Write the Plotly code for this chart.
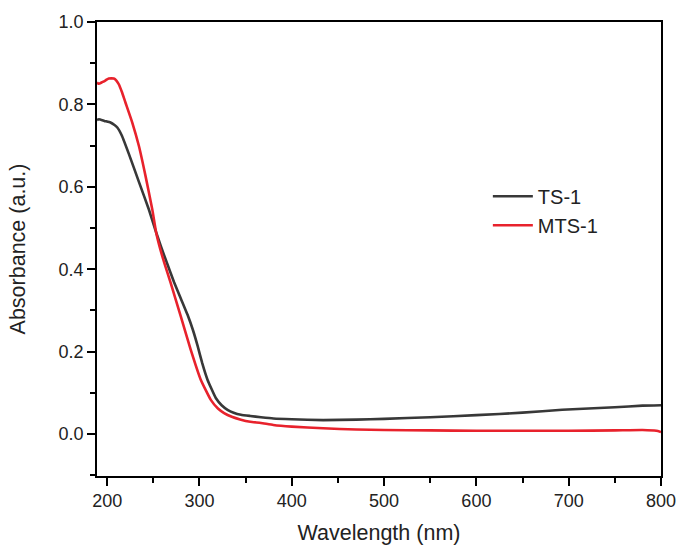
import plotly.graph_objects as go

wl_ts1 = [189, 191, 197, 203.6, 208, 211, 216, 223.5, 234.4, 245.2, 252, 258, 265, 272.4, 280, 287, 293, 298, 303, 308.7, 317.7, 324, 330.4, 337, 344.9, 355, 366.6, 380, 400, 434, 470, 500, 550, 600, 650, 693, 750, 780, 800]
abs_ts1 = [0.762, 0.764, 0.760, 0.756, 0.750, 0.744, 0.724, 0.680, 0.612, 0.545, 0.497, 0.457, 0.414, 0.369, 0.328, 0.290, 0.252, 0.214, 0.172, 0.132, 0.0875, 0.070, 0.059, 0.052, 0.047, 0.044, 0.041, 0.038, 0.036, 0.034, 0.035, 0.037, 0.041, 0.046, 0.052, 0.059, 0.065, 0.069, 0.070]

wl_mts1 = [189, 191, 194.6, 198, 201.8, 207.2, 210, 212.6, 216, 219.9, 227.2, 234.4, 241.6, 248.9, 253, 258, 262, 268.8, 279.7, 290.5, 301.4, 312.3, 320, 326.7, 335, 344.9, 355, 366.6, 380, 400, 434, 470, 500, 550, 600, 650, 700, 750, 780, 795, 800]
abs_mts1 = [0.853, 0.850, 0.854, 0.858, 0.863, 0.863, 0.858, 0.849, 0.830, 0.804, 0.756, 0.699, 0.626, 0.545, 0.490, 0.445, 0.415, 0.367, 0.286, 0.205, 0.132, 0.083, 0.062, 0.051, 0.042, 0.035, 0.030, 0.027, 0.022, 0.018, 0.014, 0.011, 0.010, 0.009, 0.008, 0.008, 0.008, 0.009, 0.010, 0.008, 0.005]

x_ticks = [200, 300, 400, 500, 600, 700, 800]
y_ticks = [0.0, 0.2, 0.4, 0.6, 0.8, 1.0]

fig = go.Figure()
fig.add_trace(go.Scatter(x=wl_ts1, y=abs_ts1, mode="lines", name="TS-1",
                         line=dict(color="#383838", width=2.6, shape="spline", smoothing=0.4)))
fig.add_trace(go.Scatter(x=wl_mts1, y=abs_mts1, mode="lines", name="MTS-1",
                         line=dict(color="#e8222c", width=2.6, shape="spline", smoothing=0.4)))

font_family = "Liberation Sans, Arial, sans-serif"
axis_common = dict(showline=True, linecolor="black", linewidth=1.6, mirror=True,
                   ticks="outside", ticklen=8, tickwidth=1.5, tickcolor="black",
                   showgrid=False, zeroline=False, automargin=False,
                   tickfont=dict(family=font_family, size=18, color="#222"))

fig.update_xaxes(range=[189, 800], tickvals=x_ticks,
                 minor=dict(ticks="outside", ticklen=5, tickwidth=1.5, tickcolor="black", dtick=50, tick0=200),
                 title=dict(text="Wavelength (nm)", font=dict(family=font_family, size=21.5, color="#222"), standoff=15),
                 **axis_common)
fig.update_yaxes(range=[-0.1017, 1.0], tickvals=y_ticks, tickformat=".1f",
                 minor=dict(ticks="outside", ticklen=5, tickwidth=1.5, tickcolor="black", dtick=0.1, tick0=0),
                 title=dict(text="Absorbance (a.u.)", font=dict(family=font_family, size=21.5, color="#222"), standoff=27),
                 **axis_common)

fig.update_layout(width=678, height=546, margin=dict(l=97, r=17, t=22, b=70),
                  plot_bgcolor="white", paper_bgcolor="white",
                  legend=dict(x=0.693, y=0.659, xanchor="left", yanchor="top",
                              bgcolor="rgba(0,0,0,0)", font=dict(family=font_family, size=20, color="#222"),
                              tracegroupgap=0, itemwidth=40),
                  showlegend=True)

# remove the default page margin so the figure sits at the window's top-left corner
fig.write_html("out.html", config={"displayModeBar": False},
               post_script="document.body.style.margin='0';document.documentElement.style.overflow='hidden';")
